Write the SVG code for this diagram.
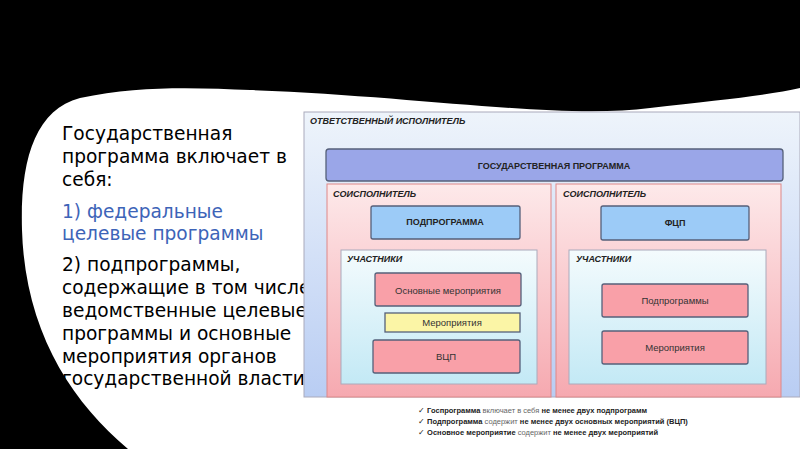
<svg xmlns="http://www.w3.org/2000/svg" width="800" height="449" viewBox="0 0 800 449">
<defs>
<linearGradient id="gOuter" x1="0" y1="0" x2="0" y2="1"><stop offset="0" stop-color="#eef4fb"/><stop offset="1" stop-color="#b9cdf3"/></linearGradient>
<linearGradient id="gPink" x1="0" y1="0" x2="0" y2="1"><stop offset="0" stop-color="#fde9ea"/><stop offset="1" stop-color="#f6a9b0"/></linearGradient>
<linearGradient id="gCyan" x1="0" y1="0" x2="0" y2="1"><stop offset="0" stop-color="#f4fbfd"/><stop offset="1" stop-color="#c3e9f5"/></linearGradient>
<style>
.t{font-family:"DejaVu Sans",sans-serif;font-size:18.6px;fill:#000}
.b{fill:#3d64b8}
.h{font-family:"Liberation Sans",Arial,sans-serif;font-size:9px;font-weight:bold;font-style:italic;fill:#222}
.c{font-family:"Liberation Sans",Arial,sans-serif;font-size:9px;font-weight:bold;fill:#222;text-anchor:middle}
.n{font-family:"Liberation Sans",Arial,sans-serif;font-size:9.5px;fill:#333;text-anchor:middle}
.box{stroke:#55607a;stroke-width:1.3}
.red{fill:#f9a0a8}
.blu{fill:#9ccbf7}
.l{font-family:"Liberation Sans",Arial,sans-serif;font-size:7.5px;fill:#222}
.l tspan.k{font-weight:bold}
.l tspan.g{fill:#666}
</style>
</defs>
<rect width="800" height="449" fill="#000"/>
<path d="M128,449 C70,400 25,330 22,230 C20,160 35,110 80,98 C140,85 200,88 250,90 C420,96 560,120 650,108 C720,100 770,95 800,88 L800,449 Z" fill="#fff"/>
<g id="text">
<text class="t" x="62" y="140">Государственная</text>
<text class="t" x="62" y="163">программа включает в</text>
<text class="t" x="62" y="186">себя:</text>
<text class="t b" x="62" y="218">1) федеральные</text>
<text class="t b" x="62" y="240">целевые программы</text>
<text class="t" x="62" y="271">2) подпрограммы,</text>
<text class="t" x="62" y="294">содержащие в том числе</text>
<text class="t" x="62" y="317">ведомственные целевые</text>
<text class="t" x="62" y="340">программы и основные</text>
<text class="t" x="62" y="363">мероприятия органов</text>
<text class="t" x="62" y="385">государственной власти</text>
</g>
<g id="outer"><rect x="304" y="112" width="496" height="285" fill="url(#gOuter)" stroke="#aab" stroke-width="1"/>
<text class="h" x="310" y="124">ОТВЕТСТВЕННЫЙ ИСПОЛНИТЕЛЬ</text></g>
<g id="gp"><rect class="box" x="326" y="149" width="457" height="32" rx="3" fill="#9aa6e8"/><text class="c" x="554" y="169">ГОСУДАРСТВЕННАЯ ПРОГРАММА</text></g>
<g id="soisp1"><rect x="327" y="184" width="224" height="213" fill="url(#gPink)" stroke="#d88" stroke-width="1"/><text class="h" x="333" y="197">СОИСПОЛНИТЕЛЬ</text></g>
<g id="soisp2"><rect x="556" y="184" width="225" height="213" fill="url(#gPink)" stroke="#d88" stroke-width="1"/><text class="h" x="563" y="197">СОИСПОЛНИТЕЛЬ</text></g>
<g id="podpr"><rect class="box blu" x="371" y="206" width="149" height="33" rx="2"/><text class="c" x="445" y="225">ПОДПРОГРАММА</text></g>
<g id="fcp"><rect class="box blu" x="601" y="206" width="148" height="34" rx="2"/><text class="c" x="675" y="226">ФЦП</text></g>
<g id="uch1"><rect x="341" y="250" width="196" height="134" fill="url(#gCyan)" stroke="#aab" stroke-width="1"/><text class="h" x="347" y="262">УЧАСТНИКИ</text></g>
<g id="uch2"><rect x="569" y="250" width="197" height="134" fill="url(#gCyan)" stroke="#aab" stroke-width="1"/><text class="h" x="576" y="262">УЧАСТНИКИ</text></g>
<g id="osn"><rect class="box red" x="375" y="273" width="146" height="33" rx="2"/><text class="n" x="448" y="294">Основные мероприятия</text></g>
<g id="mer1"><rect class="box" x="385" y="313" width="135" height="19" fill="#fbf5a6"/><text class="n" x="452" y="326">Мероприятия</text></g>
<g id="vcp"><rect class="box red" x="373" y="340" width="147" height="33" rx="2"/><text class="n" x="446" y="360">ВЦП</text></g>
<g id="podpr2"><rect class="box red" x="602" y="284" width="146" height="33" rx="2"/><text class="n" x="675" y="304">Подпрограммы</text></g>
<g id="mer2"><rect class="box red" x="602" y="331" width="146" height="33" rx="2"/><text class="n" x="675" y="351">Мероприятия</text></g>
<g id="notes">
<text class="l" x="418" y="413">✓ <tspan class="k">Госпрограмма</tspan> <tspan class="g">включает в себя</tspan> <tspan class="k">не менее двух подпрограмм</tspan></text>
<text class="l" x="418" y="424">✓ <tspan class="k">Подпрограмма</tspan> <tspan class="g">содержит</tspan> <tspan class="k">не менее двух основных мероприятий (ВЦП)</tspan></text>
<text class="l" x="418" y="435">✓ <tspan class="k">Основное мероприятие</tspan> <tspan class="g">содержит</tspan> <tspan class="k">не менее двух мероприятий</tspan></text>
</g>
</svg>
